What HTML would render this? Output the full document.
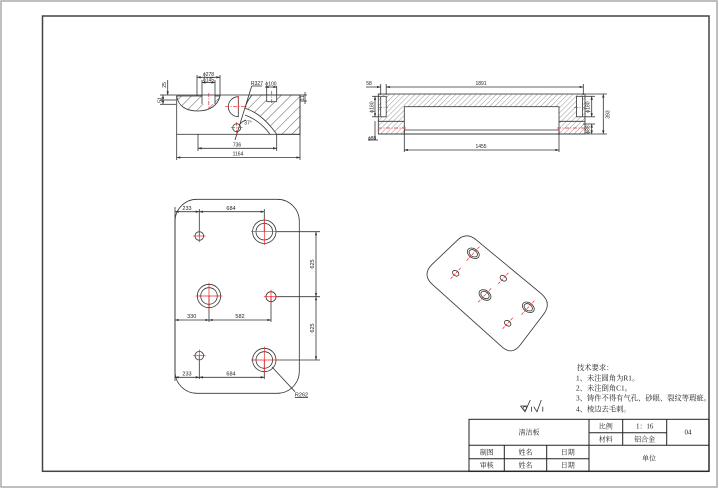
<!DOCTYPE html>
<html><head><meta charset="utf-8"><style>
html,body{margin:0;padding:0;background:#fff;}
svg{display:block;}
text{font-family:"Liberation Sans","Noto Sans CJK SC",sans-serif;fill:#222;}
.cn{font-family:"Liberation Serif","Noto Serif CJK SC","Noto Sans CJK SC",serif;}
</style></head><body>
<svg width="719" height="489" viewBox="0 0 719 489" xmlns="http://www.w3.org/2000/svg">
<defs>
<pattern id="h1" patternUnits="userSpaceOnUse" width="7" height="7" patternTransform="rotate(45)">
<line x1="0" y1="0" x2="0" y2="7" stroke="#333" stroke-width="0.8"/>
</pattern>
<pattern id="h2" patternUnits="userSpaceOnUse" width="3.6" height="3.6" patternTransform="rotate(45)">
<line x1="0" y1="0" x2="0" y2="3.6" stroke="#444" stroke-width="0.55"/>
</pattern>
<marker id="ar" viewBox="0 0 6 4" refX="6" refY="2" markerWidth="4" markerHeight="2.4" orient="auto-start-reverse" markerUnits="userSpaceOnUse"><path d="M0,0 L6,2 L0,4 Z" fill="#333"/></marker>
</defs>

<!-- frames -->
<rect x="1" y="1" width="716" height="486" fill="none" stroke="#aaa" stroke-width="1.5"/>
<rect x="42.5" y="16" width="666.5" height="455.3" fill="none" stroke="#444" stroke-width="1.5"/>

<!-- ============ TOP-LEFT VIEW ============ -->
<g stroke="#333" stroke-width="0.8" fill="none">
  <path d="M176.7,96 C178,106 186,111 198,111 C210,111 218,105 220,96 Z" fill="url(#h1)"/>
  <rect x="202" y="95" width="13" height="9" fill="#fff" stroke="none"/>
  <path d="M252,95 L300,95 L300,134.3 L276.7,134.3 C268,122 258,112 245,108.3 C246,103 249,99 252,95 Z" fill="url(#h1)"/>
  <rect x="266.7" y="95.5" width="10" height="6.2" fill="#fff" stroke="none"/>
  <line x1="266.7" y1="86" x2="266.7" y2="101.7"/>
  <line x1="276.7" y1="86" x2="276.7" y2="101.7"/>
  <line x1="266.7" y1="101.7" x2="276.7" y2="101.7"/>
  <path d="M245,115 C256,119 264,126 270,134.3"/>
  <path d="M238.3,96.7 A10,10 0 0 0 238.3,116.7 Z" fill="#fff"/>
  <circle cx="236.7" cy="127.7" r="4"/>
  <rect x="176.7" y="95" width="123.3" height="39.3"/>
  <line x1="197" y1="75" x2="197" y2="96"/>
  <line x1="220" y1="75" x2="220" y2="96"/>
  <line x1="202" y1="80" x2="202" y2="104"/>
  <line x1="215" y1="80" x2="215" y2="104"/>
  <line x1="197" y1="77.3" x2="220" y2="77.3" marker-start="url(#ar)" marker-end="url(#ar)"/>
  <line x1="202" y1="82.5" x2="215" y2="82.5" marker-start="url(#ar)" marker-end="url(#ar)"/>
  <line x1="265" y1="87" x2="277" y2="87" marker-start="url(#ar)" marker-end="url(#ar)"/>
  <!-- left dims -->
  <line x1="160" y1="95" x2="176" y2="95"/>
  <line x1="160" y1="100" x2="176" y2="100"/>
  <line x1="160" y1="104.3" x2="176" y2="104.3"/>
  <line x1="167.7" y1="80" x2="167.7" y2="95" marker-end="url(#ar)"/>
  <line x1="163" y1="95" x2="163" y2="104.3" marker-start="url(#ar)" marker-end="url(#ar)"/>
  <!-- right dim -->
  <line x1="300" y1="95" x2="307" y2="95"/>
  <line x1="300" y1="101" x2="307" y2="101"/>
  <line x1="305" y1="92" x2="305" y2="104"/>
  <!-- leader -->
  <line x1="251.7" y1="86" x2="235" y2="140"/>
  <line x1="251.7" y1="86" x2="262" y2="86"/>
  <path d="M240,124 Q243,121 246,120" />
  <!-- bottom dims -->
  <line x1="176.7" y1="134.3" x2="176.7" y2="160"/>
  <line x1="300" y1="134.3" x2="300" y2="160"/>
  <line x1="198" y1="134.3" x2="198" y2="151"/>
  <line x1="276.7" y1="134.3" x2="276.7" y2="151"/>
  <line x1="198" y1="148.3" x2="276.7" y2="148.3" marker-start="url(#ar)" marker-end="url(#ar)"/>
  <line x1="176.7" y1="157.5" x2="300" y2="157.5" marker-start="url(#ar)" marker-end="url(#ar)"/>
</g>
<g stroke="#e22" stroke-width="0.7" stroke-dasharray="4,1.5,1,1.5">
  <line x1="208.8" y1="93" x2="208.8" y2="109"/>
  <line x1="225" y1="106.7" x2="247" y2="106.7"/>
  <line x1="238.3" y1="96" x2="238.3" y2="112"/>
  <line x1="271.7" y1="91" x2="271.7" y2="104"/>
  <line x1="231" y1="127.7" x2="242.5" y2="127.7"/>
  <line x1="236.7" y1="122" x2="236.7" y2="133.5"/>
</g>
<g font-size="5" text-anchor="middle">
  <text x="208.5" y="76">ϕ278</text>
  <text x="208.5" y="81.5">ϕ145</text>
  <text x="271" y="85.5">ϕ100</text>
  <text x="257" y="85">R327</text>
  <text x="248" y="124.5">37°</text>
  <text x="237" y="146.5">736</text>
  <text x="238" y="155.5">1164</text>
  <text transform="translate(166,85) rotate(-90)">25</text>
  <text transform="translate(161.5,100) rotate(-90)">51</text>
  <text transform="translate(304,98) rotate(-90)">11</text>
</g>

<!-- ============ TOP-RIGHT VIEW ============ -->
<g stroke="#333" stroke-width="0.8" fill="none">
  <rect x="378.3" y="94" width="206.7" height="40" fill="url(#h2)"/>
  <rect x="404.3" y="106.7" width="154.7" height="27.3" fill="#fff"/>
  <rect x="380.7" y="96.3" width="5.5" height="20.5" fill="#fff"/>
  <rect x="576.5" y="96.3" width="6" height="20.5" fill="#fff"/>
  <line x1="404.3" y1="130" x2="559" y2="130"/>
  <line x1="378.3" y1="121.3" x2="404.3" y2="121.3"/>
  <line x1="559" y1="121.3" x2="585" y2="121.3"/>
  <line x1="378.3" y1="134" x2="585" y2="134"/>
  <!-- top dims -->
  <line x1="380.7" y1="84" x2="380.7" y2="95"/>
  <line x1="386.2" y1="84" x2="386.2" y2="95"/>
  <line x1="583.3" y1="84" x2="583.3" y2="95"/>
  <line x1="366" y1="87" x2="380.7" y2="87" marker-end="url(#ar)"/>
  <line x1="386.2" y1="87" x2="583.3" y2="87" marker-start="url(#ar)" marker-end="url(#ar)"/>
  <!-- bottom -->
  <line x1="404.3" y1="130" x2="404.3" y2="152"/>
  <line x1="559" y1="130" x2="559" y2="152"/>
  <line x1="404.3" y1="150" x2="559" y2="150" marker-start="url(#ar)" marker-end="url(#ar)"/>
  <!-- left -->
  <line x1="375" y1="96.3" x2="375" y2="116.8" marker-start="url(#ar)" marker-end="url(#ar)"/>
  <line x1="372" y1="96.3" x2="380" y2="96.3"/>
  <line x1="372" y1="116.8" x2="380" y2="116.8"/>
  <line x1="375" y1="121" x2="375" y2="140"/>
  <line x1="368" y1="140" x2="378" y2="140"/>
  <!-- right -->
  <line x1="585" y1="94" x2="607" y2="94"/>
  <line x1="585" y1="134" x2="607" y2="134"/>
  <line x1="583" y1="96.3" x2="595" y2="96.3"/>
  <line x1="583" y1="116.8" x2="595" y2="116.8"/>
  <line x1="583" y1="124" x2="595" y2="124"/>
  <line x1="591.7" y1="96.3" x2="591.7" y2="116.8" marker-start="url(#ar)" marker-end="url(#ar)"/>
  <line x1="591.7" y1="124" x2="591.7" y2="134" marker-start="url(#ar)" marker-end="url(#ar)"/>
  <line x1="603.3" y1="94" x2="603.3" y2="134" marker-start="url(#ar)" marker-end="url(#ar)"/>
</g>
<g stroke="#e22" stroke-width="0.7" stroke-dasharray="4,1.5,1,1.5">
  <line x1="378" y1="107.3" x2="388" y2="107.3"/>
  <line x1="574" y1="107.3" x2="585" y2="107.3"/>
  <line x1="378" y1="128" x2="406" y2="128"/>
  <line x1="557" y1="128" x2="585" y2="128"/>
</g>
<g font-size="5" text-anchor="middle">
  <text x="369" y="85">58</text>
  <text x="481" y="85">1891</text>
  <text x="481" y="148">1455</text>
  <text x="372" y="140">ϕ88</text>
  <text transform="translate(373.5,107) rotate(-90)">ϕ180</text>
  <text transform="translate(589.5,107) rotate(-90)">ϕ180</text>
  <text transform="translate(589.5,129.5) rotate(-90)">ϕ88</text>
  <text transform="translate(609.5,114.5) rotate(-90)">393</text>
</g>

<!-- ============ PLAN VIEW ============ -->
<g stroke="#333" stroke-width="0.8" fill="none">
  <rect x="175" y="199.3" width="124.3" height="194" rx="22"/>
  <circle cx="199.3" cy="236" r="4.3"/>
  <circle cx="264.3" cy="231.7" r="11.7"/><circle cx="264.3" cy="231.7" r="8.3"/>
  <circle cx="209" cy="296" r="11.7"/><circle cx="209" cy="296" r="8.3"/>
  <circle cx="271" cy="296.7" r="5"/>
  <circle cx="199.3" cy="355.7" r="4.3"/>
  <circle cx="264.3" cy="360" r="11.7"/><circle cx="264.3" cy="360" r="8.3"/>
  <!-- dims -->
  <line x1="175" y1="207" x2="175" y2="381"/>
  <line x1="199.3" y1="209" x2="199.3" y2="236"/>
  <line x1="264.3" y1="209" x2="264.3" y2="231.7"/>
  <line x1="175" y1="211.7" x2="199.3" y2="211.7" marker-start="url(#ar)" marker-end="url(#ar)"/>
  <line x1="199.3" y1="211.7" x2="264.3" y2="211.7" marker-start="url(#ar)" marker-end="url(#ar)"/>
  <line x1="276" y1="231.7" x2="320" y2="231.7"/>
  <line x1="276" y1="296.7" x2="320" y2="296.7"/>
  <line x1="276" y1="360" x2="320" y2="360"/>
  <line x1="316" y1="231.7" x2="316" y2="296.7" marker-start="url(#ar)" marker-end="url(#ar)"/>
  <line x1="316" y1="296.7" x2="316" y2="360" marker-start="url(#ar)" marker-end="url(#ar)"/>
  <line x1="209" y1="296" x2="209" y2="322"/>
  <line x1="271" y1="296.7" x2="271" y2="322"/>
  <line x1="175" y1="320" x2="209" y2="320" marker-start="url(#ar)" marker-end="url(#ar)"/>
  <line x1="209" y1="320" x2="271" y2="320" marker-start="url(#ar)" marker-end="url(#ar)"/>
  <line x1="199.3" y1="355.7" x2="199.3" y2="379"/>
  <line x1="264.3" y1="360" x2="264.3" y2="379"/>
  <line x1="175" y1="377.3" x2="199.3" y2="377.3" marker-start="url(#ar)" marker-end="url(#ar)"/>
  <line x1="199.3" y1="377.3" x2="264.3" y2="377.3" marker-start="url(#ar)" marker-end="url(#ar)"/>
  <line x1="272" y1="367" x2="295" y2="391.7"/>
  <line x1="295" y1="397.5" x2="308" y2="397.5"/>
</g>
<g stroke="#e22" stroke-width="0.7">
  <line x1="193" y1="236" x2="205.6" y2="236"/><line x1="199.3" y1="229.7" x2="199.3" y2="242.3"/>
  <line x1="251" y1="231.7" x2="277.6" y2="231.7"/><line x1="264.3" y1="218.4" x2="264.3" y2="245"/>
  <line x1="195.7" y1="296" x2="222.3" y2="296"/><line x1="209" y1="282.7" x2="209" y2="309.3"/>
  <line x1="264" y1="296.7" x2="278" y2="296.7"/><line x1="271" y1="289.7" x2="271" y2="303.7"/>
  <line x1="193" y1="355.7" x2="205.6" y2="355.7"/><line x1="199.3" y1="349.4" x2="199.3" y2="362"/>
  <line x1="251" y1="360" x2="277.6" y2="360"/><line x1="264.3" y1="346.7" x2="264.3" y2="373.3"/>
</g>
<g font-size="5.5" text-anchor="middle">
  <text x="187" y="209.8">233</text>
  <text x="231" y="209.8">684</text>
  <text x="191.7" y="318">330</text>
  <text x="240" y="318">582</text>
  <text x="187" y="375.3">233</text>
  <text x="231" y="375.3">684</text>
  <text transform="translate(314,264) rotate(-90)">625</text>
  <text transform="translate(314,328) rotate(-90)">625</text>
  <text x="301.5" y="396.5">R262</text>
</g>

<!-- ============ ISOMETRIC ============ -->
<g stroke="#333" stroke-width="0.8" fill="none">
  <path d="M476.6,240.2 L541.4,293.8 Q552,303 543.6,314.2 L520.4,344.8 Q512,356 501.6,346.6 L432.4,284.4 Q422,275 431.6,264.8 L456.4,241.2 Q466,231 476.6,240.2 Z"/>
  <g transform="translate(473.3,253.3) rotate(35)"><ellipse rx="6.5" ry="4.6"/><ellipse rx="4.6" ry="3.2"/></g>
  <g transform="translate(485,295) rotate(35)"><ellipse rx="6.5" ry="4.6"/><ellipse rx="4.6" ry="3.2"/></g>
  <g transform="translate(528.3,307.3) rotate(35)"><ellipse rx="6.5" ry="4.6"/><ellipse rx="4.6" ry="3.2"/></g>
  <g transform="translate(455.7,273.3) rotate(35)"><ellipse rx="3.5" ry="2.5"/></g>
  <g transform="translate(503.3,278.3) rotate(35)"><ellipse rx="3.5" ry="2.5"/></g>
  <g transform="translate(507.7,323.3) rotate(35)"><ellipse rx="3.5" ry="2.5"/></g>
</g>
<g stroke="#e22" stroke-width="0.7" stroke-dasharray="3,1">
  <line x1="466.5" y1="260.6" x2="480.1" y2="246"/>
  <line x1="478.2" y1="302.3" x2="491.8" y2="287.7"/>
  <line x1="521.5" y1="314.6" x2="535.1" y2="300"/>
  <line x1="450.6" y1="278.8" x2="460.8" y2="267.8"/>
  <line x1="498.2" y1="283.8" x2="508.4" y2="272.8"/>
  <line x1="502.6" y1="328.8" x2="512.8" y2="317.8"/>
</g>

<!-- ============ TECH REQUIREMENTS ============ -->
<g class="cn" font-size="7.3">
  <text class="cn" x="577" y="370">技术要求：</text>
  <text class="cn" x="576" y="380.5">1、未注圆角为R1。</text>
  <text class="cn" x="576" y="390.5">2、未注倒角C1。</text>
  <text class="cn" x="576" y="400.5">3、铸件不得有气孔、砂眼、裂纹等瑕疵。</text>
  <text class="cn" x="576" y="411.5">4、棱边去毛刺。</text>
</g>
<!-- roughness symbols -->
<g stroke="#333" stroke-width="0.8" fill="none">
  <path d="M520.5,406 L525,411.7 L530.3,400"/>
  <line x1="520.5" y1="406" x2="528" y2="406"/>
  <circle cx="524.8" cy="408.3" r="1.8"/>
  <line x1="531.5" y1="406.7" x2="531.5" y2="411.7"/>
  <path d="M533.7,406.7 L537,411.7 L541.3,400"/>
  <line x1="542.8" y1="406.7" x2="542.8" y2="411.7"/>
</g>

<!-- ============ TITLE BLOCK ============ -->
<g stroke="#222" stroke-width="1" fill="none">
  <rect x="469" y="419.3" width="240" height="52"/>
  <line x1="469" y1="445.3" x2="709" y2="445.3"/>
  <line x1="589" y1="419.3" x2="589" y2="471.3"/>
  <line x1="622.7" y1="419.3" x2="622.7" y2="445.3"/>
  <line x1="666.7" y1="419.3" x2="666.7" y2="445.3"/>
  <line x1="589" y1="432.7" x2="666.7" y2="432.7"/>
  <line x1="469" y1="458.7" x2="589" y2="458.7"/>
  <line x1="504.3" y1="445.3" x2="504.3" y2="471.3"/>
  <line x1="546.7" y1="445.3" x2="546.7" y2="471.3"/>
</g>
<g class="cn" font-size="7" text-anchor="middle">
  <text class="cn" x="529" y="434.5">清洁板</text>
  <text class="cn" x="605.8" y="428.5">比例</text>
  <text class="cn" x="644.7" y="428.5">1：16</text>
  <text class="cn" x="605.8" y="441.5">材料</text>
  <text class="cn" x="644.7" y="441.5">铝合金</text>
  <text class="cn" x="688" y="434.5">04</text>
  <text class="cn" x="486.7" y="454.5">制图</text>
  <text class="cn" x="525.5" y="454.5">姓名</text>
  <text class="cn" x="567.8" y="454.5">日期</text>
  <text class="cn" x="486.7" y="467.5">审核</text>
  <text class="cn" x="525.5" y="467.5">姓名</text>
  <text class="cn" x="567.8" y="467.5">日期</text>
  <text class="cn" x="649" y="460.5">单位</text>
</g>
</svg>
</body></html>
